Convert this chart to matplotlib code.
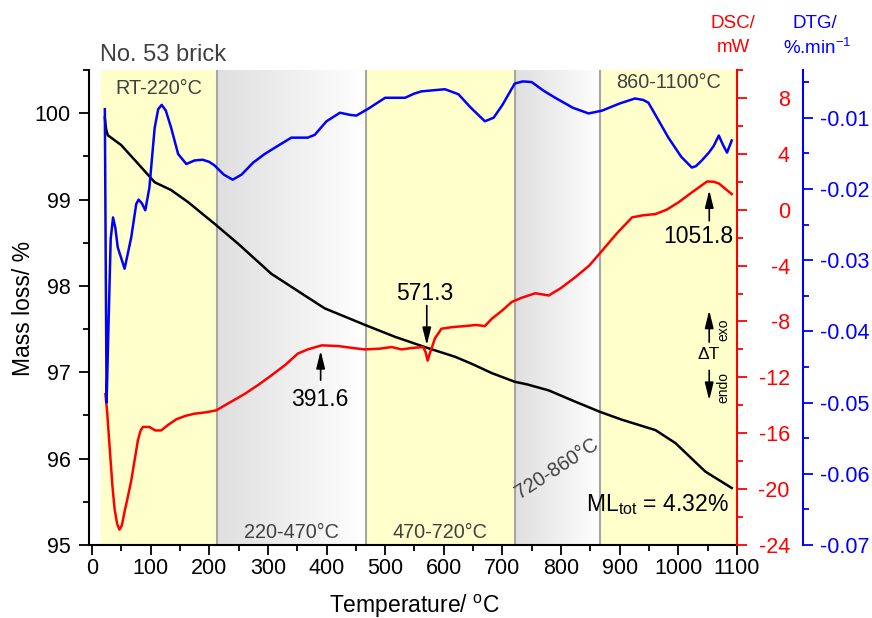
import numpy as np
import matplotlib
matplotlib.use('Agg')
import matplotlib.pyplot as plt
from matplotlib.colors import LinearSegmentedColormap
from matplotlib.ticker import MultipleLocator, FixedLocator

plt.rcParams['font.family'] = ['Liberation Sans', 'DejaVu Sans']
plt.rcParams['mathtext.fontset'] = 'custom'
plt.rcParams['mathtext.rm'] = 'Liberation Sans'
plt.rcParams['mathtext.it'] = 'Liberation Sans:italic'
plt.rcParams['mathtext.bf'] = 'Liberation Sans:bold'

# ---------------- data ----------------
mass_T = [22, 24, 27, 50, 78, 107, 135, 164, 209, 249, 306, 365, 397, 465, 517, 573,
          619, 647, 682, 721, 742, 779, 824, 867, 904, 961, 995, 1046, 1091]
mass = [99.95, 99.82, 99.745, 99.63, 99.42, 99.20, 99.11, 98.97, 98.72, 98.49, 98.14,
        97.88, 97.74, 97.55, 97.41, 97.28, 97.18, 97.10, 96.99, 96.89, 96.86, 96.79,
        96.66, 96.54, 96.45, 96.33, 96.18, 95.85, 95.66]

dsc_T = [23, 26, 30, 35, 38.6, 43, 47, 51, 55.7, 61, 67, 72.5, 78.4, 83, 87, 98, 108, 118,
         130, 144, 160, 175, 195, 212, 235, 260, 285, 306, 330, 351, 368, 392, 420, 445,
         465, 490, 511, 528, 545, 565, 569, 572.5, 576, 579, 585, 596, 615, 636, 655, 670,
         682, 700, 716, 733, 756, 779, 800, 824, 848, 870, 895, 921, 940, 961, 980, 1000,
         1025, 1049, 1060, 1069, 1080, 1091]
dsc = [-13.2, -14.5, -16.9, -19.8, -21.4, -22.5, -22.9, -22.6, -21.6, -20.6, -19.4, -18.0,
       -16.5, -15.8, -15.55, -15.55, -15.8, -15.8, -15.4, -15.0, -14.75, -14.6, -14.5,
       -14.36, -13.8, -13.2, -12.5, -11.86, -11.1, -10.3, -10.0, -9.71, -9.76, -9.9, -10.0,
       -9.95, -9.83, -10.0, -9.9, -9.83, -10.2, -10.8, -10.3, -9.95, -9.2, -8.52, -8.4,
       -8.33, -8.25, -8.33, -7.8, -7.2, -6.6, -6.3, -5.98, -6.14, -5.6, -4.84, -4.0, -2.93,
       -1.7, -0.55, -0.4, -0.31, 0.0, 0.52, 1.3, 2.02, 2.0, 1.88, 1.5, 1.12]

dtg_T = [22, 23.5, 25, 28, 32, 36, 40, 44, 55.7, 67, 75.6, 79.6, 85, 91, 98, 107, 113, 119,
         126, 135, 147, 161, 175, 189, 200, 209, 225, 240, 255, 275, 294.5, 320, 340, 368,
         380, 400, 423, 440, 451, 470, 500, 534, 550, 562, 602, 625, 645, 670, 685, 700,
         721, 735, 750, 770, 790, 820, 847, 870, 900, 926, 940, 949, 965, 983, 1005, 1023,
         1030, 1040, 1052, 1060, 1069, 1076, 1083, 1091]
dtg = [-0.0088, -0.030, -0.050, -0.040, -0.027, -0.024, -0.0255, -0.0282, -0.0312, -0.0268,
       -0.0221, -0.0215, -0.022, -0.023, -0.0198, -0.0114, -0.0088, -0.0082, -0.0090,
       -0.0114, -0.0151, -0.0165, -0.0160, -0.0159, -0.0162, -0.0167, -0.0180, -0.0187,
       -0.0180, -0.0163, -0.0151, -0.0138, -0.0128, -0.0128, -0.0124, -0.0105, -0.0093,
       -0.0096, -0.0097, -0.0088, -0.0072, -0.0072, -0.0066, -0.0063, -0.0060, -0.0067,
       -0.0085, -0.0105, -0.0100, -0.0082, -0.0052, -0.0049, -0.0050, -0.0062, -0.0072,
       -0.0086, -0.0094, -0.0090, -0.0080, -0.0073, -0.0075, -0.0079, -0.0102, -0.0128,
       -0.0155, -0.0170, -0.0168, -0.0160, -0.0149, -0.0140, -0.0125, -0.0138, -0.0149,
       -0.0132]

x_ticks = [0, 100, 200, 300, 400, 500, 600, 700, 800, 900, 1000, 1100]
mass_ticks = [95, 96, 97, 98, 99, 100]
dsc_ticks = [-24, -20, -16, -12, -8, -4, 0, 4, 8]
dtg_ticks = [-0.07, -0.06, -0.05, -0.04, -0.03, -0.02, -0.01]
dtg_labels = ['-0.07', '-0.06', '-0.05', '-0.04', '-0.03', '-0.02', '-0.01']

yellow_spans = [(15, 214), (467, 721), (866, 1100)]
grey_spans = [(214, 467), (721, 866)]
range_labels = ['RT-220°C', '220-470°C', '470-720°C', '720-860°C', '860-1100°C']
peaks = [391.6, 571.3, 1051.8]

# ---------------- figure ----------------
fig = plt.figure(figsize=(8.72, 6.18), dpi=100)
ax = fig.add_axes([89/872, 73/618, 648/872, 475/618])
XL, YL = (-5, 1100), (95, 100.5)

for a, b in yellow_spans:
    ax.axvspan(a, b, color='#ffffcc', lw=0, zorder=0)
grad = np.linspace(0, 1, 256).reshape(1, -1)
gcmap = LinearSegmentedColormap.from_list('g', ['#dfdfdf', '#ffffff'])
for a, b in grey_spans:
    ax.imshow(grad, cmap=gcmap, extent=[a, b, YL[0], YL[1]], aspect='auto',
              zorder=0, interpolation='bilinear')
for a, b in grey_spans:
    ax.axvline(a, color='#a6a6a6', lw=1.5, zorder=0.5)
    ax.axvline(b, color='#a6a6a6', lw=1.5, zorder=0.5)

ax.plot(mass_T, mass, color='black', lw=1.8, zorder=3)
ax.set_xlim(*XL)
ax.set_ylim(*YL)

ax.spines['top'].set_visible(False)
ax.spines['right'].set_visible(False)
for s in ['left', 'bottom']:
    ax.spines[s].set_linewidth(1.5)
ax.set_xticks(x_ticks)
ax.set_xticklabels([str(t) for t in x_ticks])
ax.set_yticks(mass_ticks)
ax.set_yticklabels([str(t) for t in mass_ticks])
ax.xaxis.set_minor_locator(MultipleLocator(50))
ax.yaxis.set_minor_locator(MultipleLocator(0.5))
ax.tick_params(axis='both', which='major', direction='out', length=7, width=1.3, labelsize=15.5)
ax.tick_params(axis='both', which='minor', direction='out', length=4, width=1.3)
ax.tick_params(axis='x', pad=2.5)
ax.tick_params(axis='y', pad=6)

# DSC axis
ax2 = ax.twinx()
ax2.plot(dsc_T, dsc, color='red', lw=1.8)
ax2.set_ylim(-24, 10)
ax2.set_xlim(*XL)
for s in ['top', 'left', 'bottom']:
    ax2.spines[s].set_visible(False)
ax2.spines['right'].set_color('red')
ax2.spines['right'].set_linewidth(1.5)
ax2.set_yticks(dsc_ticks)
ax2.set_yticklabels([str(t) for t in dsc_ticks])
ax2.yaxis.set_minor_locator(MultipleLocator(2))
ax2.tick_params(axis='y', which='major', colors='red', length=7, width=1.3, labelsize=15.5, pad=31)
ax2.tick_params(axis='y', which='minor', colors='red', length=4, width=1.3)
for t in ax2.get_yticklabels():
    t.set_horizontalalignment('right')

# DTG axis
ax3 = ax.twinx()
ax3.plot(dtg_T, dtg, color='blue', lw=1.8)
ax3.set_ylim(-0.07, -0.0033)
ax3.set_xlim(*XL)
ax3.spines['right'].set_position(('outward', 47.5))
for s in ['top', 'left', 'bottom']:
    ax3.spines[s].set_visible(False)
ax3.spines['right'].set_color('blue')
ax3.spines['right'].set_linewidth(1.5)
ax3.set_yticks(dtg_ticks)
ax3.set_yticklabels(dtg_labels)
ax3.yaxis.set_minor_locator(MultipleLocator(0.005))
ax3.tick_params(axis='y', which='major', colors='blue', length=7, width=1.3, labelsize=15.5, pad=5)
ax3.tick_params(axis='y', which='minor', colors='blue', length=4, width=1.3)

# region labels
gcol = '#404040'
ax.text(114, 100.29, range_labels[0], ha='center', va='center', fontsize=14.3, color=gcol)
ax.text(340, 95.15, range_labels[1], ha='center', va='center', fontsize=14.3, color=gcol)
ax.text(593, 95.15, range_labels[2], ha='center', va='center', fontsize=14.3, color=gcol)
ax.text(793, 95.88, range_labels[3], ha='center', va='center', fontsize=14.3, color=gcol,
        rotation=33, rotation_mode='anchor')
ax.text(983, 100.36, range_labels[4], ha='center', va='center', fontsize=14.3, color=gcol)
ax.text(965, 95.47, r'ML$_{\mathregular{tot}}$ = 4.32%', ha='center', va='center', fontsize=16.5)

# peak annotations
ap = dict(arrowstyle='-|>,head_width=0.26,head_length=1.05', color='black', lw=1.2,
          shrinkA=0, shrinkB=0)
ax2.annotate('', xy=(390, -10.1), xytext=(390, -12.2), arrowprops=ap)
ax2.text(388, -13.6, f'{peaks[0]}', ha='center', va='center', fontsize=16.5)
ax2.annotate('', xy=(571, -9.7), xytext=(571, -6.86), arrowprops=ap)
ax2.text(568, -6.0, f'{peaks[1]}', ha='center', va='center', fontsize=16.5)
ax2.annotate('', xy=(1052.7, 1.4), xytext=(1052.7, -0.79), arrowprops=ap)
ax2.text(1034.6, -1.93, f'{peaks[2]}', ha='center', va='center', fontsize=16.5)

# Delta T exo/endo
ax2.annotate('', xy=(1052.6, -7.21), xytext=(1052.6, -9.48), arrowprops=ap)
ax2.annotate('', xy=(1052.6, -13.64), xytext=(1052.6, -11.5), arrowprops=ap)
ax2.text(1051.6, -10.36, 'ΔT', ha='center', va='center', fontsize=12.5)
ax2.text(1076, -8.57, 'exo', ha='center', va='center', fontsize=10, rotation=90)
ax2.text(1076, -12.71, 'endo', ha='center', va='center', fontsize=10, rotation=90)

# axis titles
fig.text(100/872, 1-55/618, 'No. 53 brick', ha='left', va='center', fontsize=17, color=gcol)
fig.text(23/872, 1-308/618, 'Mass loss/ %', ha='center', va='center', fontsize=16.5, rotation=90)
fig.text(415/872, 1-606/618, r'Temperature/ $^{\mathregular{o}}$C', ha='center', va='center', fontsize=16.5)
fig.text(733/872, 1-23.5/618, 'DSC/', ha='center', va='center', fontsize=13.5, color='red')
fig.text(733/872, 1-47.5/618, 'mW', ha='center', va='center', fontsize=13.5, color='red')
fig.text(815/872, 1-23.5/618, 'DTG/', ha='center', va='center', fontsize=13.5, color='blue')
fig.text(817/872, 1-47.5/618, r'%.min$^{\mathregular{-1}}$', ha='center', va='center', fontsize=13.5, color='blue')

fig.savefig('out.png', dpi=100)
